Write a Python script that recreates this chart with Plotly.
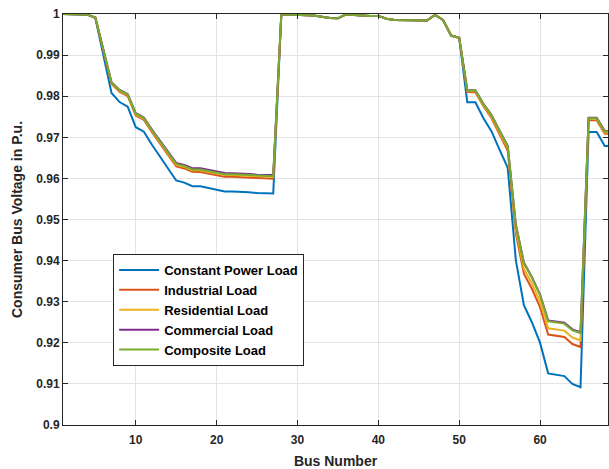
import plotly.graph_objects as go

bus = list(range(1, 70))

constant_power = [
    1.00000, 0.99997, 0.99993, 0.99984, 0.99902, 0.99009, 0.98079, 0.97858, 0.97745, 0.97245,
    0.97135, 0.96819, 0.96526, 0.96237, 0.95950, 0.95897, 0.95809, 0.95808, 0.95762, 0.95732,
    0.95684, 0.95683, 0.95676, 0.95660, 0.95643, 0.95636, 0.95634, 0.99993, 0.99985, 0.99973,
    0.99971, 0.99961, 0.99935, 0.99901, 0.99895, 0.99992, 0.99975, 0.99959, 0.99954, 0.99954,
    0.99884, 0.99855, 0.99851, 0.99850, 0.99841, 0.99841, 0.99979, 0.99854, 0.99470, 0.99415,
    0.97854, 0.97853, 0.97466, 0.97142, 0.96695, 0.96258, 0.94012, 0.92915, 0.92495, 0.91997,
    0.91256, 0.91228, 0.91190, 0.90999, 0.90919, 0.97129, 0.97129, 0.96786, 0.96786]

industrial = [
    1.00000, 0.99997, 0.99994, 0.99986, 0.99913, 0.99123, 0.98300, 0.98104, 0.98004, 0.97528,
    0.97423, 0.97122, 0.96842, 0.96567, 0.96293, 0.96243, 0.96159, 0.96158, 0.96114, 0.96086,
    0.96040, 0.96039, 0.96032, 0.96017, 0.96001, 0.95994, 0.95992, 0.99993, 0.99985, 0.99973,
    0.99971, 0.99961, 0.99935, 0.99901, 0.99895, 0.99992, 0.99975, 0.99959, 0.99954, 0.99954,
    0.99884, 0.99855, 0.99851, 0.99850, 0.99841, 0.99841, 0.99980, 0.99856, 0.99475, 0.99420,
    0.98100, 0.98099, 0.97754, 0.97465, 0.97065, 0.96674, 0.94665, 0.93684, 0.93308, 0.92862,
    0.92200, 0.92175, 0.92141, 0.91970, 0.91898, 0.97417, 0.97417, 0.97089, 0.97089]

residential = [
    1.00000, 0.99997, 0.99994, 0.99986, 0.99914, 0.99132, 0.98317, 0.98124, 0.98025, 0.97554,
    0.97450, 0.97152, 0.96876, 0.96603, 0.96332, 0.96282, 0.96199, 0.96198, 0.96155, 0.96127,
    0.96082, 0.96081, 0.96074, 0.96059, 0.96043, 0.96036, 0.96034, 0.99993, 0.99985, 0.99973,
    0.99971, 0.99961, 0.99935, 0.99901, 0.99895, 0.99992, 0.99975, 0.99959, 0.99954, 0.99954,
    0.99884, 0.99855, 0.99851, 0.99850, 0.99841, 0.99841, 0.99980, 0.99856, 0.99476, 0.99421,
    0.98120, 0.98119, 0.97781, 0.97498, 0.97107, 0.96725, 0.94762, 0.93804, 0.93437, 0.93001,
    0.92354, 0.92329, 0.92296, 0.92129, 0.92059, 0.97444, 0.97444, 0.97119, 0.97119]

commercial = [
    1.00000, 0.99997, 0.99994, 0.99986, 0.99915, 0.99145, 0.98342, 0.98151, 0.98054, 0.97587,
    0.97484, 0.97189, 0.96916, 0.96646, 0.96378, 0.96328, 0.96246, 0.96245, 0.96202, 0.96174,
    0.96129, 0.96128, 0.96122, 0.96107, 0.96091, 0.96084, 0.96082, 0.99993, 0.99985, 0.99973,
    0.99971, 0.99961, 0.99935, 0.99901, 0.99895, 0.99992, 0.99975, 0.99959, 0.99954, 0.99954,
    0.99884, 0.99855, 0.99851, 0.99850, 0.99841, 0.99841, 0.99980, 0.99857, 0.99477, 0.99422,
    0.98147, 0.98146, 0.97817, 0.97542, 0.97163, 0.96792, 0.94885, 0.93953, 0.93597, 0.93174,
    0.92545, 0.92521, 0.92489, 0.92327, 0.92259, 0.97478, 0.97478, 0.97156, 0.97156]

composite = [
    1.00000, 0.99997, 0.99994, 0.99986, 0.99915, 0.99141, 0.98334, 0.98143, 0.98045, 0.97574,
    0.97470, 0.97172, 0.96896, 0.96623, 0.96352, 0.96302, 0.96219, 0.96218, 0.96175, 0.96147,
    0.96102, 0.96101, 0.96094, 0.96079, 0.96063, 0.96056, 0.96054, 0.99993, 0.99985, 0.99973,
    0.99971, 0.99961, 0.99935, 0.99901, 0.99895, 0.99992, 0.99975, 0.99959, 0.99954, 0.99954,
    0.99884, 0.99855, 0.99851, 0.99850, 0.99841, 0.99841, 0.99980, 0.99857, 0.99477, 0.99422,
    0.98139, 0.98138, 0.97808, 0.97532, 0.97152, 0.96780, 0.94868, 0.93935, 0.93577, 0.93154,
    0.92523, 0.92499, 0.92467, 0.92304, 0.92236, 0.97464, 0.97464, 0.97139, 0.97139]

series_names = ["Constant Power Load", "Industrial Load", "Residential Load",
                "Commercial Load", "Composite Load"]
series_values = [constant_power, industrial, residential, commercial, composite]
series_colors = ["#0072BD", "#D95319", "#EDB120", "#7E2F8E", "#77AC30"]

x_tick_vals = [10, 20, 30, 40, 50, 60]
y_tick_vals = [0.9, 0.91, 0.92, 0.93, 0.94, 0.95, 0.96, 0.97, 0.98, 0.99, 1.0]
y_tick_text = ["0.9", "0.91", "0.92", "0.93", "0.94", "0.95", "0.96", "0.97", "0.98", "0.99", "1"]

fig = go.Figure()
for name, vals, col in zip(series_names, series_values, series_colors):
    fig.add_trace(go.Scatter(x=bus, y=vals, mode="lines", name=name,
                             line=dict(color=col, width=2)))

font_family = "Liberation Sans, Arial, sans-serif"
axis_col = "#262626"

fig.update_layout(
    width=609, height=469,
    margin=dict(l=63, r=1, t=14, b=44, autoexpand=False),
    paper_bgcolor="white", plot_bgcolor="white",
    font=dict(family=font_family, size=12, color=axis_col, weight="bold"),
    showlegend=True,
    legend=dict(x=0.092, y=0.416, xanchor="left", yanchor="top",
                bgcolor="white", bordercolor="#262626", borderwidth=1,
                font=dict(family=font_family, size=13, color="black", weight="bold"),
                tracegroupgap=0, itemwidth=40),
)
fig.update_xaxes(
    range=[1, 68.4], tickvals=x_tick_vals, ticks="inside", ticklen=5,
    tickcolor=axis_col, showline=True, linecolor=axis_col, linewidth=1, mirror="ticks",
    showgrid=True, gridcolor="#e3e3e3", gridwidth=1, zeroline=False, automargin=False,
    ticklabelstandoff=4,
    tickfont=dict(family=font_family, size=12, color=axis_col, weight="bold"),
    title=dict(text="Bus Number", font=dict(family=font_family, size=14, color=axis_col, weight="bold"),
               standoff=9),
)
fig.update_yaxes(
    range=[0.9, 1.0], tickvals=y_tick_vals, ticktext=y_tick_text, ticks="inside", ticklen=5,
    tickcolor=axis_col, showline=True, linecolor=axis_col, linewidth=1, mirror="ticks",
    showgrid=True, gridcolor="#e3e3e3", gridwidth=1, zeroline=False, automargin=False,
    tickfont=dict(family=font_family, size=12, color=axis_col, weight="bold"),
    title=dict(text="Consumer Bus Voltage in P.u.", font=dict(family=font_family, size=14, color=axis_col, weight="bold"),
               standoff=10),
)

fig.write_html("out.html", config={"displayModeBar": False},
               post_script="document.body.style.margin='0';document.body.style.overflow='hidden';")
